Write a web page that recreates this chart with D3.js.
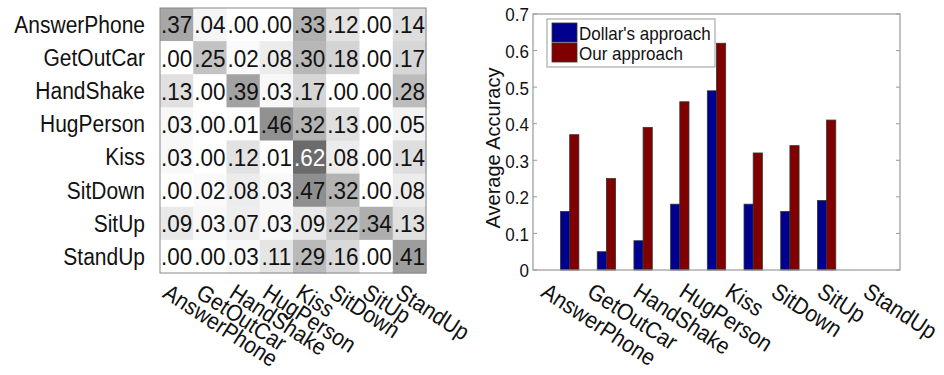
<!DOCTYPE html>
<html>
<head>
<meta charset="utf-8">
<script src="https://cdn.jsdelivr.net/npm/d3@7/dist/d3.min.js"></script>
<style>
html,body{margin:0;padding:0;background:#fff;}
svg{display:block;font-family:"Liberation Sans",Arial,sans-serif;}
</style>
</head>
<body>
<svg id="chart" width="944" height="375"></svg>
<script>
// ---------- data ----------
const categories = ["AnswerPhone","GetOutCar","HandShake","HugPerson","Kiss","SitDown","SitUp","StandUp"];
const confusion = [
  [0.37,0.04,0.00,0.00,0.33,0.12,0.00,0.14],
  [0.00,0.25,0.02,0.08,0.30,0.18,0.00,0.17],
  [0.13,0.00,0.39,0.03,0.17,0.00,0.00,0.28],
  [0.03,0.00,0.01,0.46,0.32,0.13,0.00,0.05],
  [0.03,0.00,0.12,0.01,0.62,0.08,0.00,0.14],
  [0.00,0.02,0.08,0.03,0.47,0.32,0.00,0.08],
  [0.09,0.03,0.07,0.03,0.09,0.22,0.34,0.13],
  [0.00,0.00,0.03,0.11,0.29,0.16,0.00,0.41]
];
const seriesNames = ["Dollar's approach","Our approach"];
const dollarValues = [0.16,0.05,0.08,0.18,0.49,0.18,0.16,0.19];
const ourValues    = [0.37,0.25,0.39,0.46,0.62,0.32,0.34,0.41];
const yTicks = [0,0.1,0.2,0.3,0.4,0.5,0.6,0.7];
const seriesColors = ["#00008f","#800000"];

const svg = d3.select("#chart");
const fmt = v => d3.format(".2f")(v).replace(/^0/,"");
const SY = 1.1; // vertical stretch of the original figure's text

// ---------- confusion matrix ----------
const mx = d3.scaleBand().domain(d3.range(categories.length)).range([160,426]);
const my = d3.scaleBand().domain(d3.range(categories.length)).range([8,273]);
const gray = d3.scaleLinear().domain([0,1]).range(["#ffffff","#101010"]);
const cm = svg.append("g");
const cells = [];
confusion.forEach((row,i)=>row.forEach((v,j)=>cells.push({i,j,v})));
cm.selectAll("rect.cell").data(cells).join("rect")
  .attr("class","cell")
  .attr("x",d=>mx(d.j)).attr("y",d=>my(d.i))
  .attr("width",mx.bandwidth()+0.5).attr("height",my.bandwidth()+0.5)
  .attr("fill",d=>gray(d.v));
cm.selectAll("text.val").data(cells).join("text")
  .attr("class","val")
  .attr("transform",d=>`translate(${mx(d.j)+mx.bandwidth()/2},${my(d.i)+my.bandwidth()/2}) scale(1,${SY})`)
  .attr("text-anchor","middle").attr("dy","0.36em")
  .attr("font-size",22.5)
  .attr("fill",d=>d.v>0.5?"#fff":"#111")
  .text(d=>fmt(d.v));
cm.append("rect").attr("x",160).attr("y",8).attr("width",266).attr("height",265)
  .attr("fill","none").attr("stroke","#888").attr("stroke-width",1);
cm.selectAll("text.rowlab").data(categories).join("text")
  .attr("class","rowlab")
  .attr("transform",(d,i)=>`translate(145,${my(i)+my.bandwidth()/2}) scale(1,${SY})`)
  .attr("dy","0.36em").attr("text-anchor","end").attr("font-size",21).attr("fill","#111")
  .text(d=>d);
cm.selectAll("text.collab").data(categories).join("text")
  .attr("class","collab")
  .attr("transform",(d,i)=>`translate(${mx(i)+11},282) rotate(33) scale(1,${SY})`)
  .attr("dy","0.75em").attr("text-anchor","start").attr("font-size",21).attr("fill","#111")
  .text(d=>d);

// ---------- bar chart ----------
const x = d3.scaleLinear().domain([0,10]).range([533,900]);
const y = d3.scaleLinear().domain([0,0.7]).range([270,14]);
const bw = 0.25;
const bc = svg.append("g");
const barData = [];
categories.forEach((c,i)=>{
  if (i < dollarValues.length) barData.push({i,s:0,v:dollarValues[i]});
  if (i < ourValues.length) barData.push({i,s:1,v:ourValues[i]});
});
bc.selectAll("rect.bar").data(barData).join("rect")
  .attr("class","bar")
  .attr("x",d=>x(d.i+1+(d.s===0?-bw:0)))
  .attr("width",x(bw)-x(0))
  .attr("y",d=>y(d.v))
  .attr("height",d=>y(0)-y(d.v))
  .attr("fill",d=>seriesColors[d.s])
  .attr("stroke","#333").attr("stroke-width",0.8);
// box
bc.append("rect").attr("x",533).attr("y",14).attr("width",367).attr("height",256)
  .attr("fill","none").attr("stroke","#999").attr("stroke-width",1.2);
// y ticks
bc.selectAll("line.ytl").data(yTicks).join("line").attr("class","ytl")
  .attr("x1",533).attr("x2",537).attr("y1",d=>y(d)).attr("y2",d=>y(d))
  .attr("stroke","#999");
bc.selectAll("line.ytr").data(yTicks).join("line").attr("class","ytr")
  .attr("x1",896).attr("x2",900).attr("y1",d=>y(d)).attr("y2",d=>y(d))
  .attr("stroke","#999");
bc.selectAll("text.ytick").data(yTicks).join("text").attr("class","ytick")
  .attr("transform",d=>`translate(529,${y(d)+1}) scale(1,1.05)`).attr("dy","0.36em")
  .attr("text-anchor","end").attr("font-size",17).attr("fill","#111")
  .text(d=>d===0?"0":d3.format(".1f")(d));
svg.append("text")
  .attr("transform",`translate(500,148) rotate(-90) scale(1,1.05)`)
  .attr("text-anchor","middle").attr("font-size",20).attr("fill","#111")
  .text("Average Accuracy");
// x labels
const xl = d3.scalePoint().domain(categories).range([x(0.22)+8,x(9.0)+8]);
bc.selectAll("text.xlab").data(categories).join("text").attr("class","xlab")
  .attr("transform",d=>`translate(${xl(d)},281) rotate(33) scale(1,${SY})`)
  .attr("dy","0.75em").attr("text-anchor","start").attr("font-size",21).attr("fill","#111")
  .text(d=>d);
// legend
const lg = svg.append("g");
lg.append("rect").attr("x",547).attr("y",19).attr("width",168).attr("height",48)
  .attr("fill","#fff").attr("stroke","#999").attr("stroke-width",1);
seriesNames.forEach((n,k)=>{
  lg.append("rect").attr("x",552).attr("y",23+k*20).attr("width",25).attr("height",19)
    .attr("fill",seriesColors[k]).attr("stroke","#333").attr("stroke-width",0.8);
  lg.append("text").attr("transform",`translate(579,${33+k*20}) scale(1,${SY})`).attr("dy","0.36em")
    .attr("font-size",17).attr("fill","#111").text(n);
});
</script>
</body>
</html>
